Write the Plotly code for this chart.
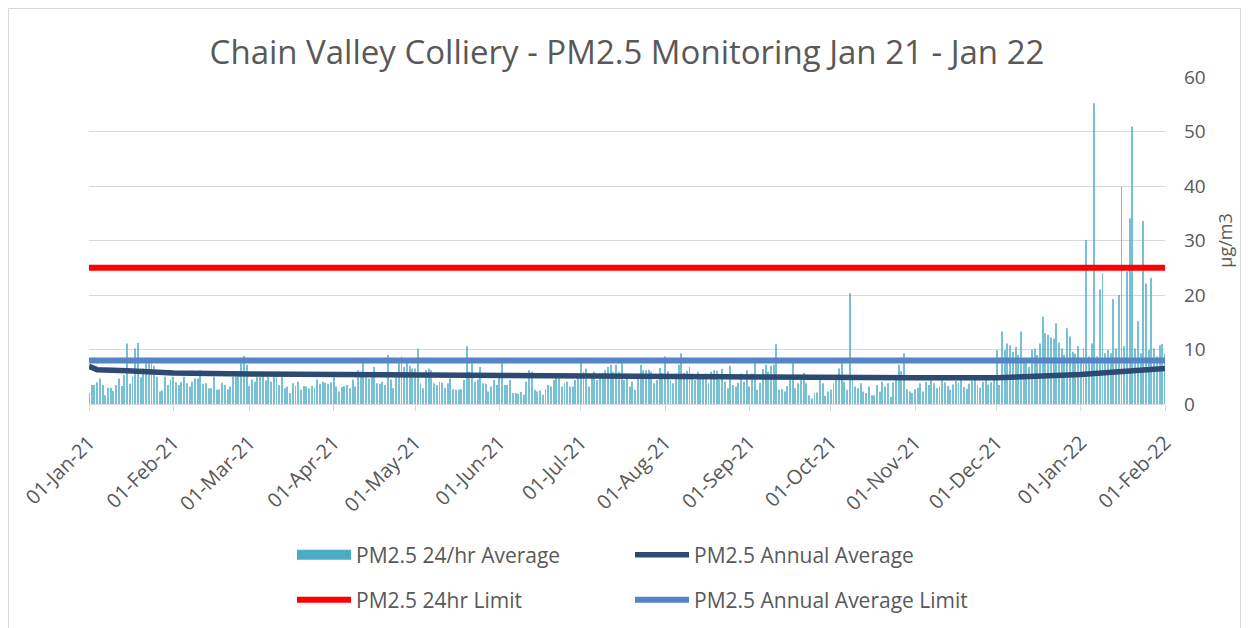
import datetime as dt
import plotly.graph_objects as go

# ---------------- data ----------------
jan21 = [2, 3.5, 3.5, 4, 4.7, 3.5, 1.6, 3, 3, 2.4, 3.5, 4.7, 3.3, 5.3, 11.1, 3.7, 5, 10.2, 11.2, 4.9,
         6.5, 7.5, 8.5, 7.5, 7, 5, 2.3, 2.5, 5, 3.5, 4.5]
feb21 = [5, 4, 3.5, 4, 5, 3.8, 3.2, 4.1, 4.7, 4.7, 6.2, 3.7, 3.8, 2.9, 2.9, 5, 2.6, 2.7, 3.9, 3.5,
         2.7, 3.2, 5, 5, 5.6, 7.5, 8.8, 7.2]
mar21 = [3.3, 4.5, 4.1, 5, 5, 5.6, 4.3, 5, 4.1, 5.6, 5.9, 3.5, 5, 2.9, 3.2, 2, 3.8, 3.3, 4.1, 2.6,
         3.3, 3.2, 2.9, 3.3, 3.0, 4.5, 3.7, 4.1, 3.9, 3.7, 4.0]
apr21 = [4.9, 3.2, 2.3, 3.1, 3.3, 3.5, 2.9, 4.5, 3.2, 6.2, 5.9, 7.5, 5, 4.7, 5.3, 6.8, 3.8, 3.7, 4.1, 3.5,
         9, 4.5, 2.9, 5, 7.5, 8.7, 6.8, 8, 7, 6.5]
may21 = [6.5, 10.2, 3.8, 2.9, 6.2, 6.5, 6.2, 3.8, 3.5, 4.1, 3.9, 3.0, 3.8, 4.7, 2.7, 2.6, 2.6, 2.7, 4.4, 10.6,
         5.9, 7.5, 4.1, 4.5, 6.8, 3.8, 3.7, 2.3, 3.2, 4.4, 3.5]
jun21 = [5, 7.5, 3.5, 3.5, 4.4, 2, 2, 1.9, 2.2, 1.7, 4.1, 6.2, 5.9, 2.6, 2.3, 2.5, 1.7, 2.7, 3.5, 3.2,
         4.4, 5.6, 4.7, 3.2, 3.8, 4.1, 3.2, 3.2, 4.4, 5.3]
jul21 = [7.5, 5.9, 6.5, 3.2, 5.6, 5.9, 4.4, 5.6, 5.7, 6.2, 6.8, 7.2, 5.9, 7.2, 5.9, 7.5, 4.4, 5.6, 3.2, 4.1,
         2.6, 5.6, 7.2, 6.2, 6.2, 6.3, 5.9, 3.8, 4.4, 6.6, 5.7]
aug21 = [8.7, 6, 4.4, 3.8, 5.6, 7.2, 9.3, 5.7, 6.1, 6.8, 5.3, 4.4, 5.9, 5, 4.7, 5.6, 3.8, 5.9, 6.2, 6.1,
         4.4, 6.4, 4.1, 2.9, 7, 3.5, 3.2, 3.9, 5.6, 4.1, 6.2]
sep21 = [3.2, 5.6, 7.5, 2.6, 3.9, 6.4, 7.2, 5.9, 7.0, 7.2, 11.0, 2.6, 2.7, 2.3, 3.3, 4.4, 7.5, 2.9, 3.8, 4.4,
         5.7, 3.8, 1.6, 1.0, 2, 2.1, 4.4, 3.8, 1.5, 2.3]
oct21 = [2.6, 3.8, 4.7, 6.5, 7.5, 4.1, 2.6, 20.3, 5.3, 3.2, 2.9, 3.8, 2.3, 2, 3.2, 1.6, 1.6, 3.5, 2.3, 4.1,
         3.2, 3.8, 1.3, 4, 5.3, 7.2, 6, 9.3, 2.7, 2.3, 2]
nov21 = [2.7, 3.0, 3.8, 2.3, 4.1, 3.5, 4.4, 3.8, 2.9, 3.2, 4.5, 4.0, 3.3, 2.6, 3.6, 4.2, 3.9, 4.6, 3.1, 2.8,
         3.7, 4.3, 4.8, 3.5, 3.0, 4.1, 4.4, 3.6, 4.0, 4.7]
dec21 = [9.9, 3.5, 13.3, 9.9, 11.1, 10.8, 9.6, 10.5, 9, 13.3, 8.4, 7.5, 6.8, 10, 10.2, 9, 11.1, 16, 13, 12.7,
         12.2, 12, 14.8, 11.3, 10.2, 9, 13.9, 12.4, 9.6, 9.2, 10.6]
jan22 = [8.5, 10.2, 30.1, 8.7, 11.1, 55.2, 8.7, 21, 24, 9.3, 9.9, 9.3, 19.2, 10.2, 20, 39.9, 10.6, 24.3, 34.1, 50.9,
         10.2, 15.2, 9.3, 33.6, 22.1, 9.9, 23.1, 10.2, 8.7, 10.8, 11]
feb22 = [9.3]

month_starts = [dt.date(2021, m, 1) for m in range(1, 13)] + [dt.date(2022, 1, 1), dt.date(2022, 2, 1)]
monthly_values = [jan21, feb21, mar21, apr21, may21, jun21, jul21, aug21, sep21, oct21, nov21, dec21, jan22, feb22]

annual_avg_dates = ["2021-01-01", "2021-01-04", "2021-01-15", "2021-02-01", "2021-03-01", "2021-04-01",
                    "2021-05-01", "2021-06-01", "2021-07-01", "2021-08-01", "2021-09-01", "2021-10-01",
                    "2021-11-01", "2021-12-01", "2021-12-15", "2022-01-01", "2022-01-15", "2022-02-01"]
annual_avg_values = [6.9, 6.3, 6.1, 5.7, 5.5, 5.4, 5.3, 5.2, 5.0, 5.0, 5.0, 4.9, 4.8, 4.8, 5.0, 5.4, 5.9, 6.5]

LIMIT_24HR = 25
LIMIT_ANNUAL = 8
limit_dates = ["2021-01-01", "2022-02-01"]

tick_dates = [d.isoformat() for d in month_starts]
tick_labels = [d.strftime("%d-%b-%y") for d in month_starts]

# ---------------- build daily series ----------------
days, vals = [], []
for start, lst in zip(month_starts, monthly_values):
    for i, v in enumerate(lst):
        days.append((start + dt.timedelta(days=i)).isoformat())
        vals.append(v)

TXT = "#595959"
FONT = "Open Sans"

fig = go.Figure()
fig.add_trace(go.Bar(x=days, y=vals, name="PM2.5 24/hr Average", marker_color="#4BACC6", opacity=0.75,
                     marker_line_width=0, showlegend=False))
# legend-only entry for the bar series (wide rectangle swatch)
fig.add_trace(go.Scatter(x=[None], y=[None], mode="lines", name="PM2.5 24/hr Average",
                         line=dict(color="#4BACC6", width=14), legend="legend"))
fig.add_trace(go.Scatter(x=annual_avg_dates, y=annual_avg_values, mode="lines", name="PM2.5 Annual Average",
                         line=dict(color="#2C4A72", width=5.5), legend="legend"))
fig.add_trace(go.Scatter(x=limit_dates, y=[LIMIT_24HR] * 2, mode="lines", name="PM2.5 24hr Limit",
                         line=dict(color="#FF0000", width=6), legend="legend2"))
fig.add_trace(go.Scatter(x=limit_dates, y=[LIMIT_ANNUAL] * 2, mode="lines", name="PM2.5 Annual Average Limit",
                         line=dict(color="#5585C5", width=6), legend="legend2"))

# figure is placed at page offset (8, 8) by the html body margin
W, H = 1233, 621
OFF = 8
L, T = 89 - OFF, 77 - OFF
R = W - (1165 - OFF)
B = H - (404 - OFF)
pw, ph = W - L - R, H - T - B


def px_x(page_x):
    return (page_x - OFF - L) / pw


def px_y(page_y):
    return (H - B - (page_y - OFF)) / ph


leg_common = dict(orientation="h", xanchor="left", yanchor="middle", font=dict(family=FONT, size=21, color=TXT),
                  itemwidth=54, entrywidth=269, bgcolor="rgba(0,0,0,0)", traceorder="normal")

fig.update_layout(
    width=W, height=H,
    margin=dict(l=L, r=R, t=T, b=B, autoexpand=False),
    paper_bgcolor="white", plot_bgcolor="white",
    bargap=0.65,
    font=dict(family=FONT, color=TXT),
    title=dict(text="Chain Valley Colliery - PM2.5 Monitoring Jan 21 - Jan 22", x=0.5, xanchor="center",
               xref="paper", y=1 - (52 - OFF) / H, yanchor="middle", font=dict(family=FONT, size=33, color=TXT)),
    legend=dict(x=px_x(292), y=px_y(555), **leg_common),
    legend2=dict(x=px_x(292), y=px_y(600), **leg_common),
    xaxis=dict(type="date", range=["2021-01-01", "2022-02-01"], tickvals=tick_dates, ticktext=tick_labels,
               tickangle=-45, tickfont=dict(family=FONT, size=20, color=TXT), showgrid=False,
               ticklabelstandoff=12, automargin=False,
               showline=True, linecolor="#D9D9D9", linewidth=1, ticks="outside", ticklen=6,
               tickcolor="#D9D9D9", zeroline=False),
    yaxis=dict(side="right", range=[0, 60], dtick=10, tickfont=dict(family=FONT, size=19, color=TXT),
               ticklabelstandoff=18, automargin=False,
               showgrid=True, gridcolor="#D9D9D9", gridwidth=1, zeroline=False, showline=False,
               title=dict(text="µg/m3", font=dict(family=FONT, size=18, color=TXT), standoff=14)),
    shapes=[dict(type="rect", xref="paper", yref="paper",
                 x0=px_x(OFF + 0.5), x1=px_x(OFF + W - 0.5), y0=px_y(OFF + H + 2), y1=px_y(OFF + 0.5),
                 line=dict(color="#D9D9D9", width=1), fillcolor="rgba(0,0,0,0)", layer="below")],
)

fig.write_html("out.html")
